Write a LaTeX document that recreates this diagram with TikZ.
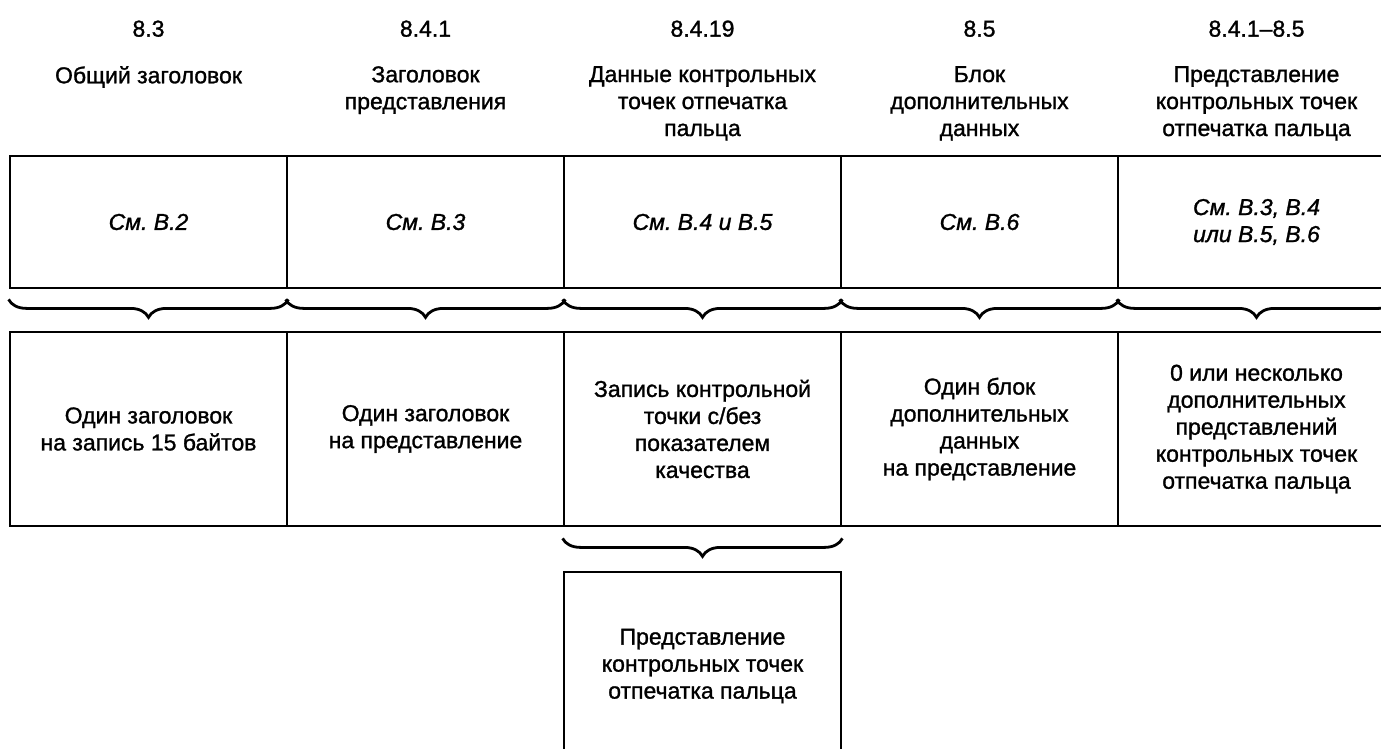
\documentclass[tikz,border=0pt]{standalone}
\usepackage{fontspec}
\setmainfont[FakeBold=1.2]{Liberation Sans}
\usetikzlibrary{decorations.pathreplacing}
\begin{document}
\frenchspacing
\begin{tikzpicture}[
      x=1pt, y=-1pt,
      every node/.style={font=\fontsize{23}{27}\selectfont},
      cell/.style={draw, line width=2.8pt, minimum width=277pt, inner sep=0pt, align=center},
      refcell/.style={cell, minimum height=132pt, font=\fontsize{23}{27}\selectfont\itshape},
      cntcell/.style={cell, minimum height=194pt},
      secnum/.style={inner sep=0pt},
      ttl/.style={anchor=north, inner sep=0pt, align=center},
      brc/.style={line width=2.8pt, decorate, decoration={brace, mirror, amplitude=18pt}}
    ]
    \useasboundingbox (0,0) rectangle (1381,749);
    % Draw the section numbers.
    \node[secnum] (secA) at (148.5,28.7) {8.3};
    \node[secnum] (secB) at (425.5,28.7) {8.4.1};
    \node[secnum] (secC) at (702.5,28.7) {8.4.19};
    \node[secnum] (secD) at (979.5,28.7) {8.5};
    \node[secnum] (secE) at (1256.5,28.7) {8.4.1–8.5};
    % Draw the headings.
    \node[ttl] (ttlA) at (148.5,66) {Общий заголовок};
    \node[ttl] (ttlB) at (425.5,66) {Заголовок\\представления};
    \node[ttl] (ttlC) at (702.5,66) {Данные контрольных\\точек отпечатка\\пальца};
    \node[ttl] (ttlD) at (979.5,66) {Блок\\дополнительных\\данных};
    \node[ttl] (ttlE) at (1256.5,66) {Представление\\контрольных точек\\отпечатка пальца};
    % Draw the reference row.
    \node[refcell] (refA) at (148.5,222) {См. В.2};
    \node[refcell] (refB) at (425.5,222) {См. В.3};
    \node[refcell] (refC) at (702.5,222) {См. В.4 и В.5};
    \node[refcell] (refD) at (979.5,222) {См. В.6};
    \node[refcell] (refE) at (1256.5,222) {См. В.3, В.4\\или В.5, В.6};
    % Draw the content row.
    \node[cntcell] (cntA) at (148.5,429) {Один заголовок\\на запись 15 байтов};
    \node[cntcell] (cntB) at (425.5,429) {Один заголовок\\на представление};
    \node[cntcell] (cntC) at (702.5,429) {Запись контрольной\\точки с/без\\показателем\\качества};
    \node[cntcell] (cntD) at (979.5,429) {Один блок\\дополнительных\\данных\\на представление};
    \node[cntcell] (cntE) at (1256.5,429) {0 или несколько\\дополнительных\\представлений\\контрольных точек\\отпечатка пальца};
    \node[cell, minimum height=188pt] (fpr) at (702.5,666) {Представление\\контрольных точек\\отпечатка пальца};
    % Draw the braces.
    \draw[brc] ([yshift=-10pt]refA.south west) -- ([yshift=-10pt]refA.south east);
    \draw[brc] ([yshift=-10pt]refB.south west) -- ([yshift=-10pt]refB.south east);
    \draw[brc] ([yshift=-10pt]refC.south west) -- ([yshift=-10pt]refC.south east);
    \draw[brc] ([yshift=-10pt]refD.south west) -- ([yshift=-10pt]refD.south east);
    \draw[brc] ([yshift=-10pt]refE.south west) -- ([yshift=-10pt]refE.south east);
    \draw[brc] ([yshift=-11pt]cntC.south west) -- ([yshift=-11pt]cntC.south east);
\end{tikzpicture}
\end{document}
